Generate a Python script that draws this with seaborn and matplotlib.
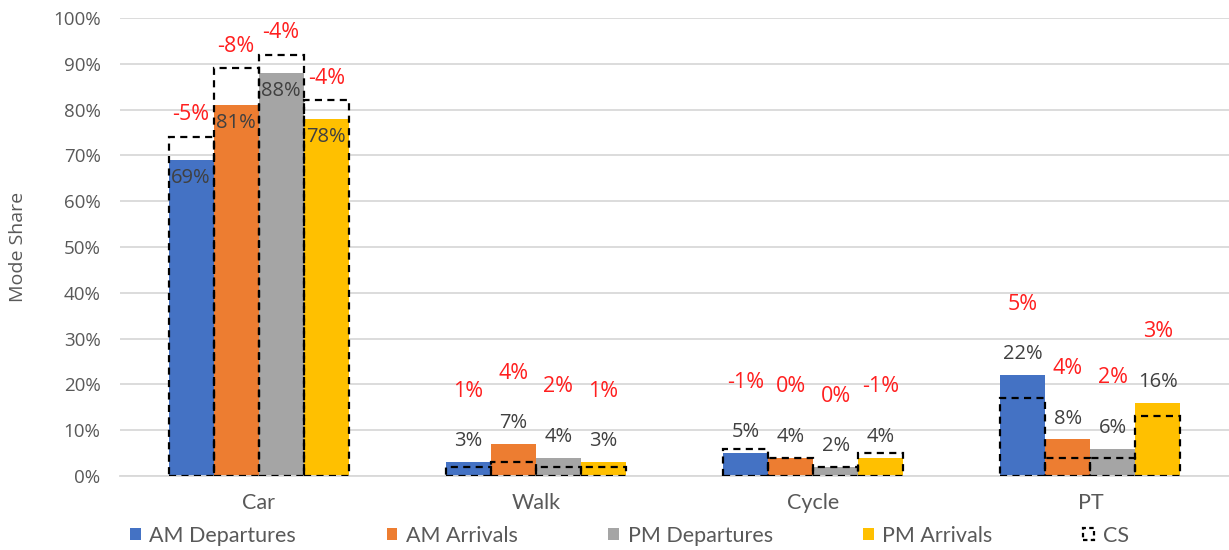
import matplotlib
matplotlib.use("Agg")
import matplotlib.pyplot as plt
from matplotlib.patches import Patch
from matplotlib.ticker import FuncFormatter, MultipleLocator
import pandas as pd
import seaborn as sns

# ---- data -------------------------------------------------------------
modes = ["Car", "Walk", "Cycle", "PT"]
periods = ["AM Departures", "AM Arrivals", "PM Departures", "PM Arrivals"]
colors = ["#4472C4", "#ED7D31", "#A5A5A5", "#FFC000"]

# modelled mode share, % (one entry per mode)
am_departures = [69, 3, 5, 22]
am_arrivals = [81, 7, 4, 8]
pm_departures = [88, 4, 2, 6]
pm_arrivals = [78, 3, 4, 16]

# modelled minus CS, percentage points
am_departures_diff = [-5, 1, -1, 5]
am_arrivals_diff = [-8, 4, 0, 4]
pm_departures_diff = [-4, 2, 0, 2]
pm_arrivals_diff = [-4, 1, -1, 3]

shares = [am_departures, am_arrivals, pm_departures, pm_arrivals]
diffs = [am_departures_diff, am_arrivals_diff, pm_departures_diff, pm_arrivals_diff]

rows = []
for period, share_list, diff_list in zip(periods, shares, diffs):
    for mode, share, diff in zip(modes, share_list, diff_list):
        rows.append({"mode": mode, "period": period, "share": share,
                     "diff": diff, "cs": share - diff})
df = pd.DataFrame(rows)

# ---- style ------------------------------------------------------------
sns.set_style("white")
plt.rcParams["font.family"] = ["Open Sans", "DejaVu Sans"]

GREY_TEXT = "#595959"
LABEL_TEXT = "#404040"
RED = "#FF1F1F"
GRID = "#D9D9D9"

fig = plt.figure(figsize=(12.29, 5.5), dpi=100)
ax = fig.add_axes([120 / 1229, 1 - 476 / 550, 1 - 120 / 1229, (476 - 18) / 550])

# modelled shares
sns.barplot(data=df, x="mode", y="share", hue="period", order=modes,
            hue_order=periods, palette=colors, saturation=1, width=0.65,
            linewidth=0, legend=False, errorbar=None, ax=ax, zorder=2)

# CS shares as dashed outlines
n_patches = len(ax.patches)
sns.barplot(data=df, x="mode", y="cs", hue="period", order=modes,
            hue_order=periods, palette=colors, saturation=1, width=0.65,
            legend=False, errorbar=None, ax=ax, zorder=3)
for patch in ax.patches[n_patches:]:
    patch.set_facecolor("none")
    patch.set_edgecolor("black")
    patch.set_linewidth(1.6)
    patch.set_linestyle((0, (3.2, 2.4)))

# ---- labels -----------------------------------------------------------
for hi, period in enumerate(periods):
    bars = ax.containers[hi]
    sub = df[df["period"] == period].set_index("mode").loc[modes]
    for bar, (mode, rec) in zip(bars, sub.iterrows()):
        xc = bar.get_x() + bar.get_width() / 2
        share, diff, cs = rec["share"], rec["diff"], rec["cs"]
        if mode == "Car":
            ax.annotate(f"{share:.0f}%", (xc, share), xytext=(0, -13),
                        textcoords="offset points", ha="center", va="center",
                        fontsize=14.5, color=LABEL_TEXT, zorder=5)
            ax.annotate(f"{diff:.0f}%", (xc, cs), xytext=(0, 16),
                        textcoords="offset points", ha="center", va="center",
                        fontsize=15.5, color=RED, zorder=5)
        else:
            ax.annotate(f"{share:.0f}%", (xc, share), xytext=(0, 15),
                        textcoords="offset points", ha="center", va="center",
                        fontsize=14.5, color=LABEL_TEXT, zorder=5)
            ax.annotate(f"{diff:.0f}%", (xc, share), xytext=(0, 51),
                        textcoords="offset points", ha="center", va="center",
                        fontsize=15.5, color=RED, zorder=5)

# ---- axes -------------------------------------------------------------
ax.set_ylim(0, 100)
ax.set_xlim(-0.5, 3.5)
ax.yaxis.set_major_locator(MultipleLocator(10))
ax.yaxis.set_major_formatter(FuncFormatter(lambda v, _: f"{v:.0f}%"))
ax.grid(axis="y", color=GRID, linewidth=1.3, zorder=0)
ax.set_axisbelow(True)
for side in ["top", "right", "left"]:
    ax.spines[side].set_visible(False)
ax.spines["bottom"].set_color(GRID)
ax.spines["bottom"].set_linewidth(1.3)
ax.tick_params(axis="y", length=0, pad=14, labelsize=13.5, labelcolor=GREY_TEXT)
ax.tick_params(axis="x", length=0, pad=12, labelcolor=GREY_TEXT)
for lbl in ax.get_xticklabels():
    lbl.set_fontfamily(["Lato", "DejaVu Sans"])
    lbl.set_fontsize(15.5)
ax.set_xlabel("")
ax.set_ylabel("Mode Share", fontsize=14, color=GREY_TEXT, va="center")
ax.yaxis.set_label_coords(-0.092, 0.5)

# ---- legend -----------------------------------------------------------
handles = [Patch(facecolor=c, edgecolor="none") for c in colors]
handles.append(Patch(facecolor="none", edgecolor="black", linewidth=1.6,
                     linestyle=(0, (2, 1.5))))
labels = periods + ["CS"]
fig.legend(handles, labels, loc="center left",
           bbox_to_anchor=(130 / 1229, 14 / 550), ncol=5, frameon=False,
           prop={"family": ["Lato", "DejaVu Sans"], "size": 15.5},
           labelcolor=GREY_TEXT, handlelength=0.5, handleheight=0.5,
           handletextpad=0.4, columnspacing=4.2, borderaxespad=0,
           borderpad=0)

fig.savefig("out.png", dpi=100, facecolor="white")
